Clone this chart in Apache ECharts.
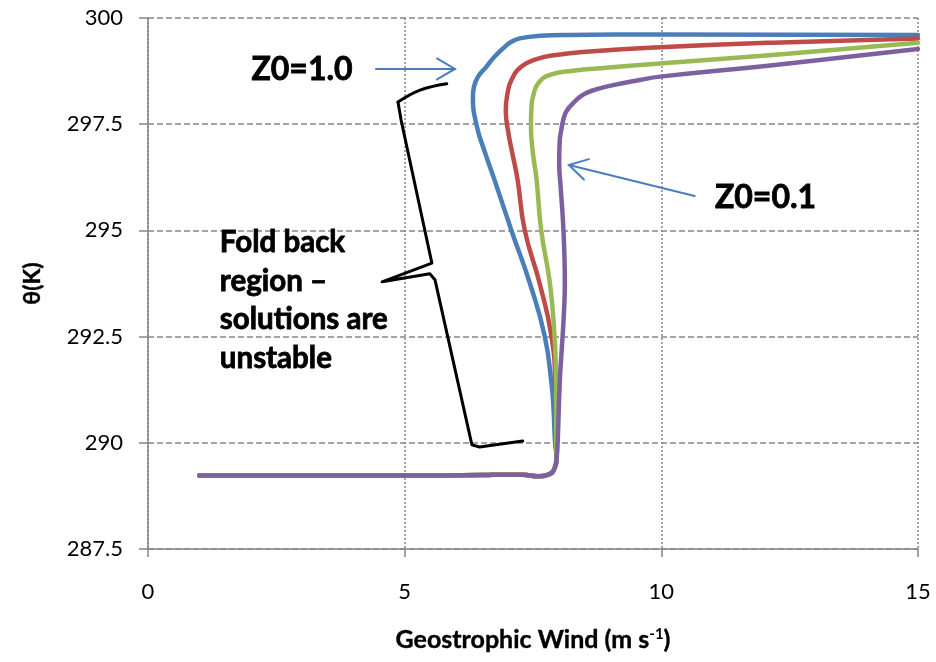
<!DOCTYPE html>
<html><head><meta charset="utf-8">
<script src="https://cdn.jsdelivr.net/npm/echarts@6/dist/echarts.min.js"></script>
<style>html,body{margin:0;padding:0;background:#fff}#c{width:936px;height:662px}</style>
</head><body><div id="c"></div>
<script>
// ---- data ----
const seriesNames = ['Z0=1.0', 'Z0=0.5', 'Z0=0.3', 'Z0=0.1'];
const seriesColors = ['#4a7ebb', '#be4b48', '#98b954', '#7d60a0'];

// shared near-surface segment (all curves overlap here)
const windBase  = [1.0, 3.0, 5.0, 6.5, 7.0, 7.3, 7.6, 7.8, 7.92, 7.96];
const thetaBase = [289.23, 289.23, 289.23, 289.24, 289.25, 289.25, 289.21, 289.25, 289.4, 289.65];

const windZ10  = [7.93, 7.90, 7.86, 7.73, 7.44, 7.08, 6.75, 6.56, 6.40, 6.33, 6.35, 6.43, 6.59, 6.75, 6.95, 7.08, 7.24, 7.63, 8.2, 10.0, 15.0];
const thetaZ10 = [290.0, 290.8, 291.4, 292.5, 293.75, 295.0, 296.19, 296.85, 297.48, 298.15, 298.38, 298.62, 298.85, 299.09, 299.32, 299.44, 299.52, 299.58, 299.6, 299.61, 299.6];

const windZ05  = [7.94, 7.93, 7.86, 7.63, 7.34, 7.20, 7.10, 7.02, 6.97, 7.0, 7.08, 7.27, 7.57, 7.95, 8.60, 9.97, 12.17, 15.0];
const thetaZ05 = [290.0, 291.4, 292.5, 293.75, 295.0, 296.19, 296.8, 297.3, 297.83, 298.2, 298.54, 298.85, 299.03, 299.13, 299.21, 299.31, 299.42, 299.52];

const windZ03  = [7.95, 7.95, 7.92, 7.83, 7.66, 7.57, 7.50, 7.46, 7.47, 7.50, 7.60, 7.83, 8.28, 8.93, 9.97, 12.17, 15.0];
const thetaZ03 = [290.0, 291.4, 292.5, 293.75, 295.0, 296.19, 296.81, 297.44, 297.91, 298.15, 298.46, 298.66, 298.76, 298.83, 298.93, 299.13, 299.42];

const windZ01  = [7.98, 8.02, 8.06, 8.10, 8.12, 8.11, 8.08, 8.04, 8.01, 8.02, 8.05, 8.09, 8.15, 8.28, 8.47, 8.73, 9.06, 9.58, 9.97, 12.17, 15.0];
const thetaZ01 = [290.0, 291.4, 292.2, 293.0, 293.75, 294.5, 295.3, 296.0, 296.6, 297.1, 297.36, 297.6, 297.8, 297.99, 298.19, 298.32, 298.42, 298.54, 298.62, 298.89, 299.27];

const xTickValues = [0, 5, 10, 15];
const yTickValues = [287.5, 290, 292.5, 295, 297.5, 300];

// annotation anchors, in data units
const noteZ10 = { text: 'Z0=1.0', at: [3.0, 298.78] };
const noteZ01 = { text: 'Z0=0.1', at: [12.03, 295.76] };
const arrowZ10 = [[4.44, 298.80], [5.98, 298.80]];
const arrowZ01 = [[10.65, 295.81], [8.20, 296.54]];
const foldNote = { text: 'Fold back\nregion –\nsolutions are\nunstable', at: [1.40, 293.35] };
const braceTop = [[5.82, 298.45], [5.30, 298.30], [4.87, 298.02]];
const bracePath = [[4.87, 298.02], [4.93, 297.60], [5.53, 294.23], [4.56, 293.79], [5.49, 293.98], [5.59, 293.84], [6.31, 289.95], [6.46, 289.90], [7.30, 290.04]];

// ---- chart ----
const winds = [windZ10, windZ05, windZ03, windZ01];
const thetas = [thetaZ10, thetaZ05, thetaZ03, thetaZ01];
function pairs(xs, ys) { return xs.map((x, i) => [x, ys[i]]); }

const chart = echarts.init(document.getElementById('c'), null, { renderer: 'canvas' });
const FONT = 'Lato, "Open Sans", sans-serif';
const AX = '#868686';

chart.setOption({
  animation: false,
  backgroundColor: '#fff',
  grid: { left: 148, right: 18, top: 18, bottom: 113, containLabel: false },
  xAxis: {
    type: 'value', min: xTickValues[0], max: xTickValues[xTickValues.length - 1], interval: 5,
    axisLine: { show: true, onZero: false, lineStyle: { color: AX, width: 1.5 } },
    axisTick: { show: true, inside: false, length: 8, lineStyle: { color: AX, width: 1.5 } },
    axisLabel: { margin: 32, color: '#000', fontSize: 22, fontFamily: FONT },
    splitLine: { show: true, lineStyle: { color: AX, type: [2, 2], width: 1.5 } },
    name: '{a|Geostrophic Wind (m s}{s|-1}{a|)}',
    nameLocation: 'middle', nameGap: 78,
    nameTextStyle: {
      rich: {
        a: { fontSize: 25, fontWeight: 'bold', fontFamily: FONT, color: '#000', textBorderColor: '#000', textBorderWidth: 0.4 },
        s: { fontSize: 15, fontWeight: 'bold', fontFamily: FONT, color: '#000', verticalAlign: 'top', padding: [0, 0, 10, 0] }
      }
    }
  },
  yAxis: {
    type: 'value', min: yTickValues[0], max: yTickValues[yTickValues.length - 1], interval: 2.5,
    axisLine: { show: true, onZero: false, lineStyle: { color: AX, width: 1.5 } },
    axisTick: { show: true, inside: false, length: 9, lineStyle: { color: AX, width: 1.5 } },
    axisLabel: { margin: 25, color: '#000', fontSize: 22, fontFamily: FONT },
    splitLine: { show: true, lineStyle: { color: AX, type: [6, 3], width: 1.5 } },
    name: 'θ(K)', nameLocation: 'middle', nameRotate: 90, nameGap: 104,
    nameTextStyle: { fontSize: 23, fontWeight: 'bold', fontFamily: FONT, color: '#000', textBorderColor: '#000', textBorderWidth: 0.4 }
  },
  series: seriesNames.map((nm, i) => ({
    name: nm, type: 'line', showSymbol: false, symbol: 'none', smooth: 0.5,
    data: pairs(windBase, thetaBase).concat(pairs(winds[i], thetas[i])),
    lineStyle: { color: seriesColors[i], width: 4.5, cap: 'round', join: 'round' },
    itemStyle: { color: seriesColors[i] },
    z: 2 + i
  }))
});

function px(p) { return chart.convertToPixel({ xAxisIndex: 0, yAxisIndex: 0 }, p); }
function arrow(seg) {
  const a = px(seg[0]), b = px(seg[1]);
  const dx = b[0] - a[0], dy = b[1] - a[1], L = Math.hypot(dx, dy);
  const ux = dx / L, uy = dy / L, nx = -uy, ny = ux;
  const hl = 18, hw = 10.5;
  const st = { stroke: '#4a7ebb', lineWidth: 2, fill: null, lineCap: 'round', lineJoin: 'miter' };
  return [
    { type: 'polyline', shape: { points: [a, b] }, style: st, z: 20 },
    { type: 'polyline', shape: { points: [[b[0] - hl * ux + hw * nx, b[1] - hl * uy + hw * ny], b, [b[0] - hl * ux - hw * nx, b[1] - hl * uy - hw * ny]] }, style: st, z: 20 }
  ];
}
const n1 = px(noteZ10.at), n2 = px(noteZ01.at), nf = px(foldNote.at);
const boldStroke = { stroke: '#000', lineWidth: 0.8 };
const graphics = [
  { type: 'text', x: n1[0], y: n1[1], z: 20, style: Object.assign({ text: noteZ10.text, fill: '#000', font: 'bold 32px ' + FONT, align: 'center', verticalAlign: 'middle' }, boldStroke) },
  { type: 'text', x: n2[0], y: n2[1], z: 20, style: Object.assign({ text: noteZ01.text, fill: '#000', font: 'bold 32px ' + FONT, align: 'center', verticalAlign: 'middle' }, boldStroke) },
  { type: 'text', x: nf[0], y: nf[1], z: 20, style: Object.assign({ text: foldNote.text, fill: '#000', font: 'bold 29.5px ' + FONT, lineHeight: 38.5, align: 'left', verticalAlign: 'middle' }, boldStroke) },
  { type: 'polyline', z: 20, shape: { points: braceTop.map(px), smooth: 0.4 }, style: { stroke: '#000', lineWidth: 3, fill: null, lineJoin: 'round', lineCap: 'round' } },
  { type: 'polyline', z: 20, shape: { points: bracePath.map(px) }, style: { stroke: '#000', lineWidth: 3, fill: null, lineJoin: 'round', lineCap: 'round' } }
].concat(arrow(arrowZ10), arrow(arrowZ01));
chart.setOption({ graphic: graphics });
</script>
</body></html>
